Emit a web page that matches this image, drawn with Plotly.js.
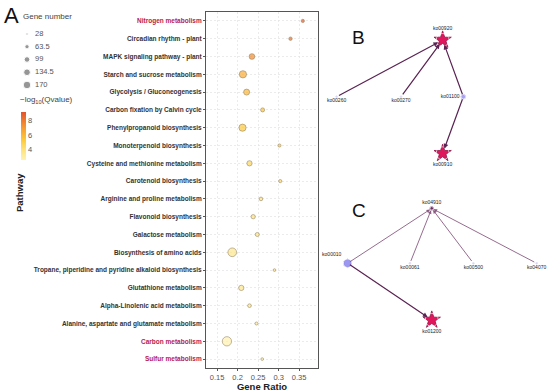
<!DOCTYPE html>
<html>
<head>
<meta charset="utf-8">
<script src="https://cdn.plot.ly/plotly-3.0.1.min.js"></script>
<style>html,body{margin:0;padding:0;background:#fff;}#chart{width:550px;height:392px;}</style>
</head>
<body>
<div id="chart"></div>
<script>
// ---------- DATA ----------
const categories = [
  'Nitrogen metabolism',
  'Circadian rhythm - plant',
  'MAPK signaling pathway - plant',
  'Starch and sucrose metabolism',
  'Glycolysis / Gluconeogenesis',
  'Carbon fixation by Calvin cycle',
  'Phenylpropanoid biosynthesis',
  'Monoterpenoid biosynthesis',
  'Cysteine and methionine metabolism',
  'Carotenoid biosynthesis',
  'Arginine and proline metabolism',
  'Flavonoid biosynthesis',
  'Galactose metabolism',
  'Biosynthesis of amino acids',
  'Tropane, piperidine and pyridine alkaloid biosynthesis',
  'Glutathione metabolism',
  'Alpha-Linolenic acid metabolism',
  'Alanine, aspartate and glutamate metabolism',
  'Carbon metabolism',
  'Sulfur metabolism'
];
const geneRatio  = [0.359, 0.329, 0.235, 0.213, 0.222, 0.261, 0.212, 0.302, 0.229, 0.304,
                    0.257, 0.238, 0.248, 0.187, 0.290, 0.209, 0.229, 0.246, 0.174, 0.260];
const geneNumber = [34, 36, 73, 110, 79, 44, 107, 32, 65, 33,
                    39, 48, 44, 150, 28, 65, 39, 31, 170, 28];
const negLog10Q  = [8.8, 8.1, 7.4, 6.4, 6.0, 5.4, 5.3, 4.9, 4.5, 4.4,
                    4.0, 3.9, 3.8, 3.5, 3.5, 3.4, 3.3, 3.2, 2.6, 2.6];
const highlighted = ['Nitrogen metabolism', 'Carbon metabolism', 'Sulfur metabolism'];

const sizeLegendValues = [28, 63.5, 99, 134.5, 170];
const sizeLegendLabels = ['28', '63.5', '99', '134.5', '170'];
const colorbarTicks = [4, 6, 8];
const xTickValues = [0.15, 0.2, 0.25, 0.3, 0.35];
const xTickLabels = ['0.15', '0.2', '0.25', '0.3', '0.35'];

// Network B
const nodesB  = ['ko00920', 'ko00260', 'ko00270', 'ko01100', 'ko00910'];
const nodesBx = [5.12, 0.30, 3.23, 6.06, 5.12];
const nodesBy = [8.71, 5.05, 5.05, 5.05, 1.40];
const edgesBsource = ['ko00260', 'ko00270', 'ko01100', 'ko01100'];
const edgesBtarget = ['ko00920', 'ko00920', 'ko00920', 'ko00910'];
const keyNodesB = ['ko00920', 'ko00910'];

// Network C
const nodesC  = ['ko04910', 'ko00010', 'ko00061', 'ko00500', 'ko04070', 'ko01200'];
const nodesCx = [4.86, 1.20, 3.91, 6.67, 9.42, 4.86];
const nodesCy = [9.08, 5.29, 5.29, 5.29, 5.29, 1.38];
const edgesCsource = ['ko00010', 'ko00061', 'ko00500', 'ko04070', 'ko00010'];
const edgesCtarget = ['ko04910', 'ko04910', 'ko04910', 'ko04910', 'ko01200'];
const keyNodesC = ['ko01200'];

// ---------- STYLE ----------
const FONT = 'Liberation Sans, Arial, sans-serif';
const W = 550, H = 392;
const px = v => v / W, py = v => 1 - v / H;
const diam = n => Math.sqrt(Math.max(0.558 * n - 8.3, 1));
const colorscale = [[0, '#FFF3B2'], [0.22, '#FEE27A'], [0.42, '#FDC93A'], [0.62, '#F9A532'], [0.82, '#F07A2E'], [1, '#E3522B']];
const nodeStyle = {
  key:  {symbol: 'star', size: 13, color: '#E0175C', line: '#8E1747'},
  map:  {symbol: 'circle', size: 4.5, color: '#A7A2F2', line: '#8C86E6'},
  hub:  {symbol: 'hexagon', size: 8.5, color: '#9C97F0', line: '#8A84E6'},
  tiny: {symbol: 'circle', size: 3.5, color: '#6E2D63', line: '#6E2D63'},
  leaf: {symbol: 'circle', size: 1.5, color: '#B7B3F0', line: '#B7B3F0'}
};
const roleB = {ko00920: 'key', ko00910: 'key', ko01100: 'map', ko00260: 'leaf', ko00270: 'leaf'};
const roleC = {ko04910: 'tiny', ko00010: 'hub', ko00061: 'leaf', ko00500: 'leaf', ko04070: 'leaf', ko01200: 'key'};
const labelPosB = {ko00920: 'top center', ko00260: 'bottom center', ko00270: 'bottom center', ko01100: 'middle left', ko00910: 'bottom center'};
const labelPosC = {ko04910: 'top center', ko00010: 'top left', ko00061: 'bottom center', ko00500: 'bottom center', ko04070: 'bottom center', ko01200: 'bottom center'};

// ---------- TRACES ----------
const yIdx = categories.map((c, i) => i);
const traces = [];

traces.push({
  type: 'scatter', mode: 'markers', xaxis: 'x', yaxis: 'y',
  x: geneRatio, y: yIdx,
  marker: {
    size: geneNumber.map(diam),
    color: negLog10Q, colorscale: colorscale, cmin: 2.5, cmax: 9.2,
    line: {color: 'rgba(110,85,40,0.85)', width: 0.7},
    showscale: true,
    colorbar: {
      x: px(21), xanchor: 'left', y: py(112), yanchor: 'top',
      len: 48, lenmode: 'pixels', thickness: 5, thicknessmode: 'pixels',
      outlinewidth: 0, tickvals: colorbarTicks, ticks: '', xpad: 0, ypad: 0,
      tickfont: {family: FONT, size: 7.5, color: '#555'}
    }
  },
  hoverinfo: 'skip'
});

// size legend
const legIdx = sizeLegendValues.map((v, i) => i);
traces.push({
  type: 'scatter', mode: 'markers', xaxis: 'x4', yaxis: 'y4', cliponaxis: false,
  x: sizeLegendValues.map(() => 27), y: legIdx,
  marker: {size: sizeLegendValues.map(v => diam(v) * 0.82), color: '#6a6a6a'},
  hoverinfo: 'skip'
});
traces.push({
  type: 'scatter', mode: 'text', xaxis: 'x4', yaxis: 'y4', cliponaxis: false,
  x: sizeLegendValues.map(() => 35), y: legIdx, text: sizeLegendLabels,
  textposition: 'middle right', textfont: {family: FONT, size: 7.5, color: '#555'},
  hoverinfo: 'skip'
});

function networkTraces(nodes, xs, ys, roles, labelPos, xa, ya) {
  const out = [];
  ['leaf', 'map', 'hub', 'tiny', 'key'].forEach(r => {
    const idx = nodes.map((n, i) => i).filter(i => roles[nodes[i]] === r);
    if (!idx.length) return;
    const s = nodeStyle[r];
    out.push({
      type: 'scatter', mode: 'markers', xaxis: xa, yaxis: ya, cliponaxis: false,
      x: idx.map(i => xs[i]), y: idx.map(i => ys[i]),
      marker: {symbol: s.symbol, size: s.size, color: s.color, line: {color: s.line, width: 0.8}},
      hoverinfo: 'skip'
    });
  });
  out.push({
    type: 'scatter', mode: 'markers+text', xaxis: xa, yaxis: ya, cliponaxis: false,
    x: xs, y: ys, text: nodes,
    marker: {size: nodes.map(n => nodeStyle[roles[n]].size), color: 'rgba(0,0,0,0)'},
    textposition: nodes.map(n => labelPos[n]),
    textfont: {family: FONT, size: 5, color: '#222'},
    hoverinfo: 'skip'
  });
  return out;
}
traces.push(...networkTraces(nodesB, nodesBx, nodesBy, roleB, labelPosB, 'x2', 'y2'));
traces.push(...networkTraces(nodesC, nodesCx, nodesCy, roleC, labelPosC, 'x3', 'y3'));

// edges as arrows
function edgeAnnotations(nodes, xs, ys, src, tgt, xa, ya, keyNodes) {
  return src.map((s, k) => {
    const i = nodes.indexOf(s), j = nodes.indexOf(tgt[k]);
    const toKey = keyNodes.includes(tgt[k]);
    return {
      x: xs[j], y: ys[j], ax: xs[i], ay: ys[i],
      xref: xa, yref: ya, axref: xa, ayref: ya,
      showarrow: true, text: '', arrowhead: 2, arrowsize: 0.8,
      arrowwidth: toKey ? 1.2 : 0.9,
      arrowcolor: toKey ? '#5A2252' : '#8A5A82',
      standoff: toKey ? 5 : 2, startstandoff: 1
    };
  });
}

const annotations = [];
annotations.push(...edgeAnnotations(nodesB, nodesBx, nodesBy, edgesBsource, edgesBtarget, 'x2', 'y2', keyNodesB));
annotations.push(...edgeAnnotations(nodesC, nodesCx, nodesCy, edgesCsource, edgesCtarget, 'x3', 'y3', keyNodesC));

annotations.push(
  {xref: 'paper', yref: 'paper', x: px(2), y: py(1), xanchor: 'left', yanchor: 'top', showarrow: false,
   text: 'A', font: {family: FONT, size: 22, color: '#111'}},
  {xref: 'paper', yref: 'paper', x: px(350), y: py(38), xanchor: 'left', yanchor: 'middle', showarrow: false,
   text: 'B', font: {family: FONT, size: 19, color: '#111'}},
  {xref: 'paper', yref: 'paper', x: px(350), y: py(210), xanchor: 'left', yanchor: 'middle', showarrow: false,
   text: 'C', font: {family: FONT, size: 19, color: '#111'}},
  {xref: 'paper', yref: 'paper', x: px(21), y: py(16), xanchor: 'left', yanchor: 'middle', showarrow: false,
   text: 'Gene number', font: {family: FONT, size: 8, color: '#444'}},
  {xref: 'paper', yref: 'paper', x: px(18), y: py(100), xanchor: 'left', yanchor: 'middle', showarrow: false,
   text: '\u2212log<sub>10</sub>(Qvalue)', font: {family: FONT, size: 8, color: '#444'}},
  {xref: 'paper', yref: 'paper', x: px(19), y: py(193), xanchor: 'center', yanchor: 'middle', showarrow: false,
   textangle: -90, text: '<b>Pathway</b>', font: {family: FONT, size: 9.5, color: '#222'}}
);

const tickText = categories.map(c => highlighted.includes(c)
  ? '<span style="color:#B7194E"><b>' + c + '</b></span>'
  : '<b>' + c + '</b>');

const gridStyle = {showgrid: true, gridcolor: '#e3e3e3', gridwidth: 0.7, griddash: '2px,2px'};

const layout = {
  width: W, height: H,
  margin: {l: 0, r: 0, t: 0, b: 0},
  paper_bgcolor: '#fff', plot_bgcolor: '#fff',
  showlegend: false,
  font: {family: FONT},
  xaxis: Object.assign({
    domain: [px(206), px(318)], range: [0.123, 0.396],
    tickvals: xTickValues, ticktext: xTickLabels,
    tickfont: {family: FONT, size: 7.5, color: '#555'},
    ticks: 'outside', ticklen: 2, tickcolor: '#555',
    showline: true, linecolor: '#555', linewidth: 1, mirror: true, zeroline: false,
    title: {text: '<b>Gene Ratio</b>', font: {family: FONT, size: 9.5, color: '#222'}, standoff: 3},
    fixedrange: true
  }, gridStyle),
  yaxis: Object.assign({
    domain: [py(368), py(12)], range: [19.5, -0.5],
    tickvals: yIdx, ticktext: tickText,
    tickfont: {family: FONT, size: 6.5, color: '#333'},
    ticks: 'outside', ticklen: 2, tickcolor: '#555',
    showline: true, linecolor: '#555', linewidth: 1, mirror: true, zeroline: false,
    fixedrange: true
  }, gridStyle),
  xaxis2: {domain: [px(330), px(550)], range: [0, 10], visible: false, fixedrange: true},
  yaxis2: {domain: [py(175), py(20)], range: [0, 10], visible: false, fixedrange: true},
  xaxis3: {domain: [px(320), px(550)], range: [0, 10], visible: false, fixedrange: true},
  yaxis3: {domain: [py(340), py(195)], range: [0, 10], visible: false, fixedrange: true},
  xaxis4: {domain: [0, px(110)], range: [0, 110], visible: false, fixedrange: true},
  yaxis4: {domain: [py(92), py(26)], range: [4.55, -0.627], visible: false, fixedrange: true},
  annotations: annotations
};

Plotly.newPlot('chart', traces, layout, {staticPlot: true, displayModeBar: false});
</script>
</body>
</html>
